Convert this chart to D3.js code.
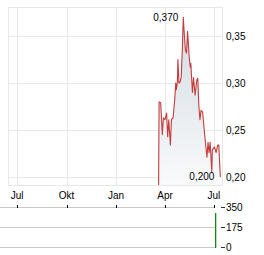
<!DOCTYPE html>
<html>
<head>
<meta charset="utf-8">
<script src="https://cdn.jsdelivr.net/npm/d3@7"></script>
<style>
  body { margin: 0; background: #fff; }
  text { font-family: "Liberation Sans", Arial, sans-serif; font-size: 10px; fill: #000; }
</style>
</head>
<body>
<div id="chart"></div>
<script>
// price series (date, close)
var dates = ["2024-03-20", "2024-03-21", "2024-03-24", "2024-03-27", "2024-03-29", "2024-04-01",
  "2024-04-04", "2024-04-06", "2024-04-08", "2024-04-11", "2024-04-13", "2024-04-16", "2024-04-19",
  "2024-04-21", "2024-04-22", "2024-04-24", "2024-04-25", "2024-04-27", "2024-04-29", "2024-05-01",
  "2024-05-03", "2024-05-05", "2024-05-07", "2024-05-09", "2024-05-11", "2024-05-13", "2024-05-16",
  "2024-05-18", "2024-05-19", "2024-05-22", "2024-05-24", "2024-05-27", "2024-05-30", "2024-06-01",
  "2024-06-03", "2024-06-05", "2024-06-07", "2024-06-10", "2024-06-13", "2024-06-16", "2024-06-18",
  "2024-06-20", "2024-06-22", "2024-06-24", "2024-06-27", "2024-06-28", "2024-07-02", "2024-07-05",
  "2024-07-08", "2024-07-10", "2024-07-12", "2024-07-13"];
var prices = [0.185, 0.280, 0.279, 0.245, 0.263, 0.261,
  0.268, 0.243, 0.261, 0.234, 0.261, 0.263, 0.282,
  0.300, 0.293, 0.301, 0.325, 0.300, 0.301, 0.306,
  0.332, 0.370, 0.351, 0.335, 0.332, 0.355, 0.328,
  0.317, 0.321, 0.290, 0.306, 0.287, 0.303, 0.305,
  0.275, 0.261, 0.271, 0.269, 0.250, 0.232, 0.221,
  0.237, 0.226, 0.237, 0.205, 0.229, 0.232, 0.226,
  0.234, 0.234, 0.211, 0.200];

var volDates = ["2024-07-03"];
var volumes = [300];

var xTicks = ["2023-07-01", "2023-10-01", "2024-01-01", "2024-04-01", "2024-07-01"];
var xTickLabels = ["Jul", "Okt", "Jan", "Apr", "Jul"];
var yTicks = [0.20, 0.25, 0.30, 0.35];
var volTicks = [0, 175, 350];

var parse = d3.utcParse("%Y-%m-%d");
var fmt = d3.format(".3f");
var comma = function (s) { return s.replace(".", ","); };

var W = 264, H = 255;
var plot = { left: 8, right: 222, top: 7, bottom: 185 };
var vol = { top: 207, bottom: 247, right: 215 };

var data = dates.map(function (d, i) { return { date: parse(d), v: prices[i] }; });

var x = d3.scaleUtc()
  .domain([parse("2023-06-14"), parse("2024-07-16")])
  .range([plot.left, plot.right]);
var y = d3.scaleLinear().domain([0.1915, 0.381]).range([plot.bottom, plot.top]);
var yv = d3.scaleLinear().domain([0, 350]).range([vol.bottom, vol.top]);

var svg = d3.select("#chart").append("svg")
  .attr("width", W).attr("height", H);

var defs = svg.append("defs");
defs.append("clipPath").attr("id", "clip")
  .append("rect")
  .attr("x", plot.left).attr("y", plot.top)
  .attr("width", plot.right - plot.left).attr("height", plot.bottom - plot.top);
var grad = defs.append("linearGradient").attr("id", "fill")
  .attr("x1", 0).attr("y1", 0).attr("x2", 0).attr("y2", 1);
grad.append("stop").attr("offset", "0%").attr("stop-color", "#d3dbe2");
grad.append("stop").attr("offset", "100%").attr("stop-color", "#fafbfc");

// grid
var grid = svg.append("g").attr("stroke", "#e8e8e8").attr("shape-rendering", "crispEdges");
grid.selectAll("line.gx").data(xTicks).enter().append("line")
  .attr("x1", function (d) { return Math.round(x(parse(d))) + 0.5; })
  .attr("x2", function (d) { return Math.round(x(parse(d))) + 0.5; })
  .attr("y1", plot.top).attr("y2", plot.bottom);
grid.selectAll("line.gy").data(yTicks).enter().append("line")
  .attr("x1", plot.left).attr("x2", plot.right)
  .attr("y1", function (d) { return Math.round(y(d)) + 0.5; })
  .attr("y2", function (d) { return Math.round(y(d)) + 0.5; });
grid.append("rect")
  .attr("x", plot.left + 0.5).attr("y", plot.top + 0.5)
  .attr("width", plot.right - plot.left).attr("height", plot.bottom - plot.top)
  .attr("fill", "none");

// area + line
var g = svg.append("g").attr("clip-path", "url(#clip)");
g.append("path").datum(data)
  .attr("fill", "url(#fill)")
  .attr("d", d3.area()
    .x(function (d) { return x(d.date); })
    .y0(plot.bottom)
    .y1(function (d) { return y(d.v); }));
g.append("path").datum(data)
  .attr("fill", "none")
  .attr("stroke", "#c43c3c")
  .attr("stroke-width", 1.1)
  .attr("stroke-linejoin", "round")
  .attr("d", d3.line()
    .x(function (d) { return x(d.date); })
    .y(function (d) { return y(d.v); }));

// max / min labels
var maxD = data.reduce(function (a, b) { return b.v > a.v ? b : a; });
var minD = data.filter(function (d) { return d.v >= y.domain()[0]; })
  .reduce(function (a, b) { return b.v < a.v ? b : a; });
svg.append("text")
  .attr("x", x(maxD.date) - 5).attr("y", y(maxD.v) + 4)
  .attr("text-anchor", "end")
  .text(comma(fmt(maxD.v)));
svg.append("text")
  .attr("x", x(minD.date) - 6).attr("y", y(minD.v) + 3)
  .attr("text-anchor", "end")
  .text(comma(fmt(minD.v)));

// y labels (right)
svg.selectAll("text.yl").data(yTicks).enter().append("text")
  .attr("x", 226).attr("y", function (d) { return y(d) + 4; })
  .text(function (d) { return comma(d3.format(".2f")(d)); });

// x labels
svg.selectAll("text.xl").data(xTicks).enter().append("text")
  .attr("x", function (d) { return x(parse(d)); })
  .attr("y", 199)
  .attr("text-anchor", "middle")
  .text(function (d, i) { return xTickLabels[i]; });

// volume panel
var vg = svg.append("g");
vg.selectAll("line.vg").data(volTicks).enter().append("line")
  .attr("x1", 0).attr("x2", vol.right)
  .attr("y1", function (d) { return Math.round(yv(d)) + 0.5; })
  .attr("y2", function (d) { return Math.round(yv(d)) + 0.5; })
  .attr("stroke", "#c8c8c8");
vg.selectAll("line.vt").data(volTicks).enter().append("line")
  .attr("x1", 221).attr("x2", 225)
  .attr("y1", function (d) { return Math.round(yv(d)) + 0.5; })
  .attr("y2", function (d) { return Math.round(yv(d)) + 0.5; })
  .attr("stroke", "#333");
vg.selectAll("line.xt").data(xTicks).enter().append("line")
  .attr("x1", function (d) { return Math.round(x(parse(d))) + 0.5; })
  .attr("x2", function (d) { return Math.round(x(parse(d))) + 0.5; })
  .attr("y1", vol.top - 2).attr("y2", vol.top + 1)
  .attr("stroke", "#000");
vg.selectAll("rect.vb").data(volDates).enter().append("rect")
  .attr("class", "vb")
  .attr("x", function (d) { return Math.floor(x(parse(d))); })
  .attr("width", 1.3)
  .attr("y", function (d, i) { return Math.round(yv(volumes[i])); })
  .attr("height", function (d, i) { return Math.round(yv(0)) - Math.round(yv(volumes[i])) + 1; })
  .attr("fill", "#128a12");
svg.selectAll("text.vl").data(volTicks).enter().append("text")
  .attr("x", 226).attr("y", function (d) { return yv(d) + 4; })
  .text(function (d) { return d; });
</script>
</body>
</html>
